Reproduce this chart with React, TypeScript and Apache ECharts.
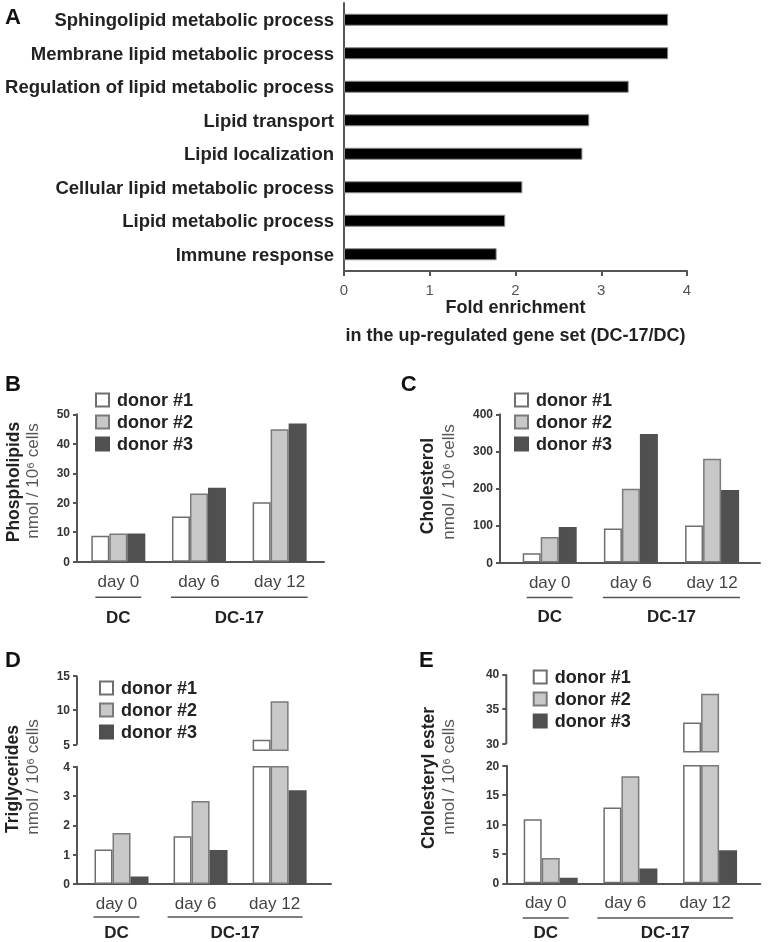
import { useEffect, useRef } from "react";
import * as echarts from "echarts";

const FF = '"Liberation Sans", Arial, Helvetica, sans-serif';

// ---------- Panel A data ----------
const goTerms = [
  "Sphingolipid metabolic process",
  "Membrane lipid metabolic process",
  "Regulation of lipid metabolic process",
  "Lipid transport",
  "Lipid localization",
  "Cellular lipid metabolic process",
  "Lipid metabolic process",
  "Immune response",
];
const foldEnrichment = [3.78, 3.78, 3.32, 2.86, 2.78, 2.08, 1.88, 1.78];
const foldAxisNameLines = ["Fold enrichment", "in the up-regulated gene set (DC-17/DC)"];

// ---------- Panels B–E data ----------
const donors = ["donor #1", "donor #2", "donor #3"];
const days = ["day 0", "day 6", "day 12"];
const groupLabels = ["DC", "DC-17"];
const unitLabel = "nmol / 10\u2076 cells";

// one row per donor, one value per day
const phospholipids = [
  [8.8, 15.3, 20.2],
  [9.6, 23.1, 44.9],
  [9.6, 25.1, 46.9],
];
const cholesterol = [
  [25, 92, 100],
  [69, 199, 280],
  [96, 347, 196],
];
const triglycerides = [
  [1.18, 1.63, 5.7],
  [1.74, 2.83, 11.3],
  [0.26, 1.16, 3.2],
];
const cholesterylEster = [
  [10.9, 12.9, 33.1],
  [4.3, 18.2, 37.2],
  [0.95, 2.5, 5.6],
];
const upperTicksTG = [5, 10, 15];
const upperTicksCE = [30, 35, 40];

const donorFill = ["#ffffff", "#c8c8c8", "#505050"];
const donorBorder = ["#6e6e6e", "#7a7a7a", "#505050"];

const axisLS = { color: "#555", width: 2 };

type Panel = {
  letter: string;
  title: string;
  values: number[][];
  grid: { left: number; top: number; width: number; height: number };
  xRange: [number, number];
  yMax: number;
  yInterval: number;
  upper?: { top: number; height: number; min: number; max: number; ticks: number[] };
  legend: { left: number; top: number };
  letterPos: [number, number];
  titlePos: [number, number];
  unitPos: [number, number];
  labelShift: number;
  underlineGap: number;
  groupGap: number;
};

const panels: Panel[] = [
  {
    letter: "B", title: "Phospholipids", values: phospholipids,
    grid: { left: 77, top: 414.3, width: 247, height: 147.4 },
    xRange: [-0.512, 2.55], yMax: 50, yInterval: 10,
    legend: { left: 95, top: 391 },
    letterPos: [5, 383], titlePos: [13.3, 482], unitPos: [32.3, 481],
    labelShift: 0, underlineGap: 35.6, groupGap: 55.5,
  },
  {
    letter: "C", title: "Cholesterol", values: cholesterol,
    grid: { left: 500, top: 414.3, width: 260, height: 148.2 },
    xRange: [-0.612, 2.59], yMax: 400, yInterval: 100,
    legend: { left: 514, top: 391 },
    letterPos: [400.7, 383], titlePos: [427.3, 486], unitPos: [448, 482],
    labelShift: 0, underlineGap: 35, groupGap: 53.5,
  },
  {
    letter: "D", title: "Triglycerides", values: triglycerides,
    grid: { left: 77, top: 766.7, width: 254, height: 117.3 },
    xRange: [-0.563, 2.65], yMax: 4, yInterval: 1,
    upper: { top: 675.7, height: 74.5, min: 4.2, max: 15, ticks: upperTicksTG },
    legend: { left: 99, top: 679 },
    letterPos: [5, 659], titlePos: [11.7, 779], unitPos: [32.3, 777],
    labelShift: -5, underlineGap: 33, groupGap: 48.5,
  },
  {
    letter: "E", title: "Cholesteryl ester", values: cholesterylEster,
    grid: { left: 506.3, top: 765.7, width: 254, height: 117.6 },
    xRange: [-0.557, 2.63], yMax: 20, yInterval: 5,
    upper: { top: 674.3, height: 77.4, min: 28.9, max: 40, ticks: upperTicksCE },
    legend: { left: 532.7, top: 668 },
    letterPos: [419, 659.5], titlePos: [428.3, 778], unitPos: [448.3, 777],
    labelShift: -5, underlineGap: 34.7, groupGap: 48.7,
  },
];

function text(x: number, y: number, str: string, o: any = {}) {
  return {
    type: "text",
    x,
    y,
    rotation: o.rotation || 0,
    silent: true,
    style: {
      text: str,
      fontFamily: FF,
      fontSize: o.fontSize || 17,
      fontWeight: o.fontWeight || "normal",
      fill: o.fill || "#222",
      align: o.align || "center",
      textAlign: o.align || "center",
      verticalAlign: "middle",
      textVerticalAlign: "middle",
    },
  };
}

function buildOption() {
  const grids: any[] = [{ left: 344, top: 3, width: 343, height: 268 }];
  const nameStyle = { fontSize: 18, fontWeight: "bold", color: "#222", fontFamily: FF };
  const xAxes: any[] = [
    {
      gridIndex: 0, type: "value", min: 0, max: 4, interval: 1,
      axisLine: { show: true, onZero: false, lineStyle: axisLS },
      axisTick: { show: true, length: 5, lineStyle: axisLS },
      splitLine: { show: false },
      axisLabel: { fontSize: 15, lineHeight: 15, color: "#555", margin: 11, fontFamily: FF },
      name: `{a|${foldAxisNameLines[0]}}\n{b|${foldAxisNameLines[1]}}`,
      nameLocation: "middle", nameGap: 27, nameMoveOverlap: false,
      nameTextStyle: {
        ...nameStyle,
        rich: {
          a: { ...nameStyle, lineHeight: 18 },
          b: { ...nameStyle, lineHeight: 38 },
        },
      },
    },
  ];
  const yAxes: any[] = [
    {
      gridIndex: 0, type: "category", data: goTerms, inverse: true,
      axisLine: { show: true, onZero: false, lineStyle: axisLS },
      axisTick: { show: false },
      axisLabel: { fontSize: 18.5, fontWeight: "bold", color: "#222", margin: 10, fontFamily: FF },
    },
  ];
  const series: any[] = [
    {
      type: "bar", xAxisIndex: 0, yAxisIndex: 0, data: foldEnrichment, barWidth: 12,
      itemStyle: { color: "#000", borderColor: "#888", borderWidth: 1 },
    },
  ];
  const legends: any[] = [];
  const lowerIdx: number[] = [];

  panels.forEach((p) => {
    const gi = grids.length;
    lowerIdx.push(gi);
    grids.push({ ...p.grid });
    xAxes.push({
      gridIndex: gi, type: "value", min: p.xRange[0], max: p.xRange[1],
      axisLine: { show: true, onZero: false, lineStyle: axisLS },
      axisTick: { show: false },
      splitLine: { show: false },
      axisLabel: {
        customValues: [0, 1, 2],
        formatter: (v: number) => days[Math.round(v)] ?? "",
        fontSize: 17, color: "#444", margin: 11, fontFamily: FF,
        padding: p.labelShift < 0 ? [0, -2 * p.labelShift, 0, 0] : 0,
      },
    });
    yAxes.push({
      gridIndex: gi, type: "value", min: 0, max: p.yMax, interval: p.yInterval,
      axisLine: { show: true, onZero: false, lineStyle: axisLS },
      axisTick: { show: true, length: 4, lineStyle: axisLS },
      splitLine: { show: false },
      axisLabel: { fontSize: 12, fontWeight: "bold", color: "#333", margin: 7, fontFamily: FF },
    });
    donors.forEach((name, d) => {
      series.push({
        type: "bar", name, xAxisIndex: gi, yAxisIndex: gi,
        data: days.map((_, i) => [i, p.values[d][i]]),
        barWidth: 18, barGap: "0%",
        itemStyle: { color: donorFill[d], borderColor: donorBorder[d], borderWidth: 1.5 },
      });
    });

    if (p.upper) {
      const u = p.upper;
      const gu = grids.length;
      grids.push({ left: p.grid.left, width: p.grid.width, top: u.top, height: u.height });
      xAxes.push({
        gridIndex: gu, type: "value", min: p.xRange[0], max: p.xRange[1], show: false,
        axisLine: { onZero: false },
      });
      yAxes.push({
        gridIndex: gu, type: "value", min: u.min, max: u.max,
        axisLine: { show: false, onZero: false },
        axisTick: { show: true, length: 4, lineStyle: axisLS, customValues: u.ticks },
        splitLine: { show: false },
        axisLabel: { customValues: u.ticks, fontSize: 12, fontWeight: "bold", color: "#333", margin: 7, fontFamily: FF },
      });
      donors.forEach((name, d) => {
        series.push({
          type: "bar", name, xAxisIndex: gu, yAxisIndex: gu,
          data: days.map((_, i) => [i, p.values[d][i] > p.yMax ? p.values[d][i] : "-"]),
          barWidth: 18, barGap: "0%",
          itemStyle: { color: donorFill[d], borderColor: donorBorder[d], borderWidth: 1.5 },
        });
      });
      // broken-axis segment of the upper y axis, from the first tick to the max
      series.push({
        type: "line", xAxisIndex: gu, yAxisIndex: gu, clip: false, silent: true,
        symbol: "none", showSymbol: false,
        data: [[p.xRange[0], u.ticks[0]], [p.xRange[0], u.max]],
        lineStyle: { color: "#555", width: 2 },
      });
    }

    legends.push({
      data: donors, left: p.legend.left, top: p.legend.top, orient: "vertical",
      itemWidth: 13, itemHeight: 13, itemGap: 4, icon: "rect", selectedMode: false,
      padding: 0,
      textStyle: { fontSize: 18, fontWeight: "bold", color: "#222", fontFamily: FF, lineHeight: 18, padding: [0, 0, 0, 3] },
    });
  });

  return {
    option: {
      animation: false,
      grid: grids,
      xAxis: xAxes,
      yAxis: yAxes,
      legend: legends,
      series,
    },
    lowerIdx,
  };
}

export default function App() {
  const ref = useRef<HTMLDivElement>(null);
  useEffect(() => {
    if (!ref.current) return;
    const chart = echarts.init(ref.current, null, { renderer: "svg" });
    const { option, lowerIdx } = buildOption();
    chart.setOption(option as any);

    const g: any[] = [text(5, 16, "A", { fontSize: 22, fontWeight: "bold", align: "left", fill: "#111" })];
    panels.forEach((p, k) => {
      const idx = lowerIdx[k];
      g.push(text(p.letterPos[0], p.letterPos[1], p.letter, { fontSize: 22, fontWeight: "bold", align: "left", fill: "#111" }));
      g.push(text(p.titlePos[0], p.titlePos[1], p.title, { fontSize: 17.5, fontWeight: "bold", rotation: Math.PI / 2 }));
      g.push(text(p.unitPos[0], p.unitPos[1], unitLabel, { fontSize: 17, fill: "#555", rotation: Math.PI / 2 }));
      const px = (v: number) => (chart.convertToPixel({ xAxisIndex: idx } as any, v) as unknown as number) + p.labelShift;
      const base = chart.convertToPixel({ yAxisIndex: idx } as any, 0) as unknown as number;
      const c = [px(0), px(1), px(2)];
      const uy = base + p.underlineGap;
      const ty = base + p.groupGap;
      const spans = [
        [c[0] - 23, c[0] + 23],
        [c[1] - 28, c[2] + 28],
      ];
      spans.forEach(([a, b], j) => {
        g.push({
          type: "line", silent: true,
          shape: { x1: a, y1: uy, x2: b, y2: uy },
          style: { stroke: "#555", lineWidth: 1.5 },
        });
        g.push(text((a + b) / 2, ty, groupLabels[j], { fontSize: 17, fontWeight: "bold" }));
      });
    });
    chart.setOption({ graphic: { elements: g } } as any);
    return () => chart.dispose();
  }, []);
  return <div ref={ref} style={{ position: "fixed", left: 0, top: 0, width: 768, height: 942 }} />;
}
